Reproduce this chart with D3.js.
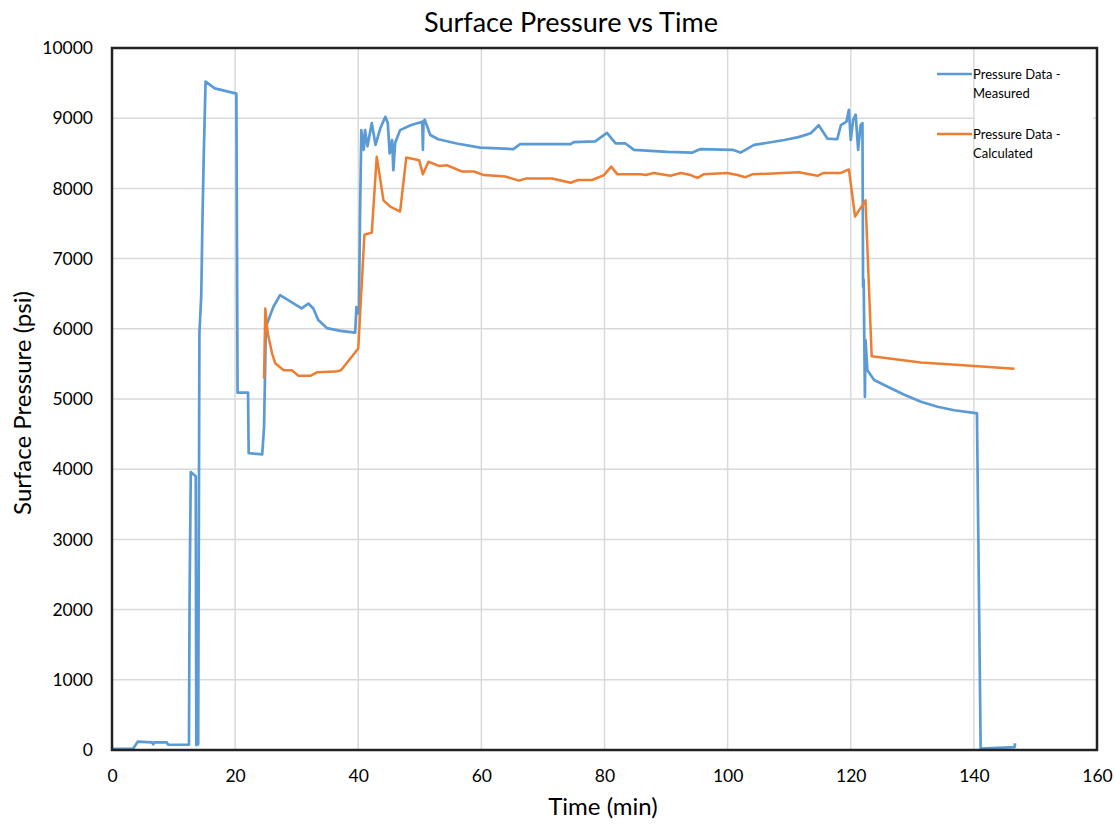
<!DOCTYPE html>
<html>
<head>
<meta charset="utf-8">
<script src="https://cdn.jsdelivr.net/npm/d3@7"></script>
<style>
  body { margin: 0; background: #fff; }
  text { font-family: Lato, "Liberation Sans", sans-serif; fill: #000; }
</style>
</head>
<body>
<div id="chart"></div>
<script>
// measured surface pressure (time in min, pressure in psi)
var measuredTime = [
  0, 3.4, 4.2, 6.5, 6.7, 6.9, 8.9, 9.1, 12.5, 12.6,
  12.8, 13.6, 13.7, 13.9, 14.0, 14.2, 14.5, 14.7, 14.9, 15.2,
  16.7, 20.2, 20.4, 22.1, 22.2, 24.4, 24.7, 25.0, 26.2, 27.3,
  30.8, 31.9, 32.7, 33.5, 34.9, 37.1, 39.5, 39.7, 39.9, 40.1,
  40.3, 40.5, 40.9, 41.1, 41.5, 42.2, 42.8, 43.6, 44.4, 44.8,
  45.1, 45.5, 45.7, 46.0, 46.8, 48.5, 50.4, 50.5, 50.6, 50.8,
  51.7, 53.0, 56.0, 59.8, 65.2, 66.3, 74.5, 75.0, 78.5, 80.4,
  81.8, 83.4, 84.8, 90.2, 94.3, 95.6, 100.8, 102.1, 104.3, 106.5,
  109.2, 111.5, 113.5, 114.8, 116.2, 117.8, 118.4, 119.3, 119.7, 120.0,
  120.4, 120.8, 121.2, 121.6, 121.9, 122.0, 122.1, 122.3, 122.4, 122.7,
  123.8, 126.0, 128.7, 131.4, 134.1, 136.8, 140.3, 140.5, 141.1, 146.6,
  146.7
];
var measuredPsi = [
  15, 15, 120, 110, 80, 110, 110, 75, 75, 2160,
  3960, 3900, 70, 650, 80, 5940, 6480, 7580, 8450, 9520,
  9425, 9350, 5090, 5090, 4230, 4210, 4600, 6030, 6310, 6480,
  6290, 6360, 6290, 6125, 6010, 5970, 5945, 6310, 6220, 6220,
  7690, 8830, 8550, 8830, 8600, 8930, 8620, 8860, 9020, 8930,
  8500, 8690, 8260, 8650, 8830, 8900, 8950, 8550, 8950, 8980,
  8760, 8700, 8640, 8580, 8560, 8630, 8630, 8660, 8670, 8790,
  8640, 8640, 8550, 8520, 8510, 8560, 8550, 8510, 8620, 8650,
  8690, 8730, 8785, 8900, 8710, 8700, 8900, 8950, 9120, 8690,
  8980, 9050, 8550, 8900, 8930, 6600, 6700, 5030, 5840, 5410,
  5270, 5175, 5060, 4960, 4890, 4840, 4800, 4800, 20, 40,
  95
];

// calculated surface pressure
var calcTime = [24.7, 24.9, 25.3, 26.0, 26.5, 27.9, 29.2, 30.3, 32.2, 33.3, 36.3, 37.2, 40.0, 41.0, 42.2, 43.0, 44.1, 45.2, 46.8, 47.8, 49.9, 50.5, 51.4, 53.1, 54.4, 56.9, 58.8, 60.4, 63.9, 66.1, 67.2, 71.5, 74.5, 75.7, 78.0, 79.9, 81.1, 82.1, 85.9, 86.7, 88.0, 90.7, 92.4, 94.0, 95.1, 96.1, 99.9, 101.6, 102.9, 104.0, 111.6, 114.6, 115.6, 118.4, 119.7, 120.7, 122.4, 123.4, 131.4, 139.5, 146.6];
var calcPsi = [5290, 6290, 5935, 5650, 5510, 5410, 5410, 5330, 5330, 5380, 5390, 5410, 5720, 7340, 7370, 8450, 7830, 7740, 7670, 8440, 8400, 8200, 8380, 8320, 8330, 8240, 8240, 8190, 8170, 8110, 8140, 8140, 8080, 8120, 8120, 8190, 8310, 8200, 8200, 8190, 8220, 8180, 8220, 8190, 8150, 8200, 8220, 8190, 8160, 8200, 8230, 8180, 8220, 8220, 8270, 7600, 7830, 5610, 5520, 5475, 5430];

var xTicks = [0, 20, 40, 60, 80, 100, 120, 140, 160];
var yTicks = [0, 1000, 2000, 3000, 4000, 5000, 6000, 7000, 8000, 9000, 10000];

var W = 1115, H = 825;
var m = {left: 112, top: 48, right: 18, bottom: 75};

var svg = d3.select("#chart").append("svg")
    .attr("width", W)
    .attr("height", H);

var x = d3.scaleLinear().domain([0, 160]).range([m.left, W - m.right]);
var y = d3.scaleLinear().domain([0, 10000]).range([H - m.bottom, m.top]);

// gridlines
svg.append("g").selectAll("line")
    .data(xTicks.slice(1, -1))
    .enter().append("line")
    .attr("x1", d => x(d)).attr("x2", d => x(d))
    .attr("y1", y(10000)).attr("y2", y(0))
    .attr("stroke", "#d9d9d9").attr("stroke-width", 1.5);
svg.append("g").selectAll("line")
    .data(yTicks.slice(1, -1))
    .enter().append("line")
    .attr("x1", x(0)).attr("x2", x(160))
    .attr("y1", d => y(d)).attr("y2", d => y(d))
    .attr("stroke", "#d9d9d9").attr("stroke-width", 1.5);

// legend background hides horizontal grid behind text
svg.append("rect")
    .attr("x", x(140) + 1).attr("y", 60)
    .attr("width", 118).attr("height", 104)
    .attr("fill", "#fff");

// axes (labels only, Excel style)
var xAxis = svg.append("g")
    .attr("transform", "translate(0," + y(0) + ")")
    .call(d3.axisBottom(x).tickValues(xTicks).tickSize(0).tickPadding(20));
xAxis.select(".domain").remove();
xAxis.selectAll("text").style("font-size", "17.5px").attr("font-family", "Lato");

var yAxis = svg.append("g")
    .attr("transform", "translate(" + x(0) + ",0)")
    .call(d3.axisLeft(y).tickValues(yTicks).tickSize(0).tickPadding(19).tickFormat(d3.format("d")));
yAxis.select(".domain").remove();
yAxis.selectAll("text").style("font-size", "17.5px").attr("font-family", "Lato");

// lines
var line = d3.line()
    .x(d => x(d[0]))
    .y(d => y(d[1]));

svg.append("path")
    .datum(measuredTime.map((t, i) => [t, measuredPsi[i]]))
    .attr("d", line)
    .attr("fill", "none")
    .attr("stroke", "#5b9bd5")
    .attr("stroke-width", 2.7)
    .attr("stroke-linejoin", "round");

svg.append("path")
    .datum(calcTime.map((t, i) => [t, calcPsi[i]]))
    .attr("d", line)
    .attr("fill", "none")
    .attr("stroke", "#ed7d31")
    .attr("stroke-width", 2.5)
    .attr("stroke-linejoin", "round");

// plot border
svg.append("rect")
    .attr("x", x(0)).attr("y", y(10000))
    .attr("width", x(160) - x(0)).attr("height", y(0) - y(10000))
    .attr("fill", "none").attr("stroke", "#222").attr("stroke-width", 2.5);

// legend
var legend = [
  {name: ["Pressure Data -", "Measured"], color: "#5b9bd5", yy: 74},
  {name: ["Pressure Data -", "Calculated"], color: "#ed7d31", yy: 134}
];
var lg = svg.append("g").selectAll("g").data(legend).enter().append("g");
lg.append("line")
    .attr("x1", 937).attr("x2", 972)
    .attr("y1", d => d.yy).attr("y2", d => d.yy)
    .attr("stroke", d => d.color).attr("stroke-width", 2.5);
lg.append("text")
    .attr("x", 973).attr("y", d => d.yy + 5)
    .style("font-size", "13px")
    .text(d => d.name[0]);
lg.append("text")
    .attr("x", 973).attr("y", d => d.yy + 24)
    .style("font-size", "13px")
    .text(d => d.name[1]);

// titles
svg.append("text")
    .attr("x", 571).attr("y", 32)
    .attr("text-anchor", "middle")
    .style("font-size", "27px")
    .text("Surface Pressure vs Time");

svg.append("text")
    .attr("x", 603).attr("y", 815)
    .attr("text-anchor", "middle")
    .style("font-size", "24px")
    .text("Time (min)");

svg.append("text")
    .attr("transform", "translate(31,403) rotate(-90)")
    .attr("text-anchor", "middle")
    .style("font-size", "24px")
    .text("Surface Pressure (psi)");
</script>
</body>
</html>
